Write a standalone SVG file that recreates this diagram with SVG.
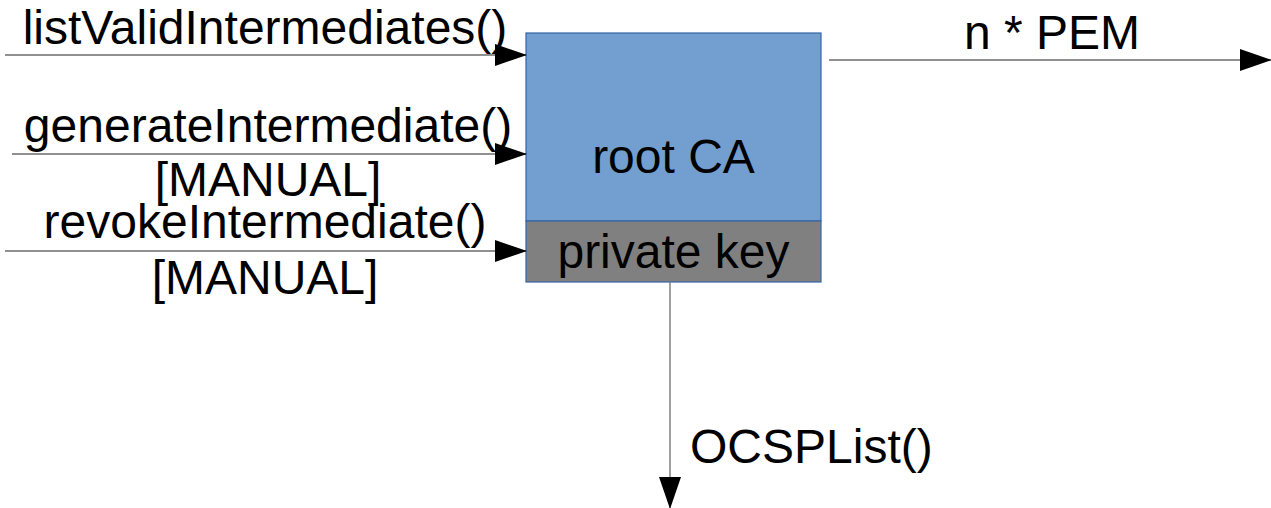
<svg xmlns="http://www.w3.org/2000/svg" width="1271" height="508" viewBox="0 0 1271 508">
<style>
text{font-family:"Liberation Sans",Arial,sans-serif;font-size:48px;fill:#000}
.c{text-anchor:middle}
.ln{stroke:#222;stroke-width:1.2;fill:none}
.lg{stroke:#808080;stroke-width:1.5;fill:none}
</style>
<defs>
<marker id="ah" markerUnits="userSpaceOnUse" markerWidth="32" markerHeight="22" viewBox="0 0 32 22" refX="31" refY="11" orient="auto">
<path d="M0,0 L32,11 L0,22 Z" fill="#000"/>
</marker>
</defs>
<g id="rootCA">
<rect x="526" y="33" width="295" height="188" fill="#729fcf" stroke="#3465a4" stroke-width="1.2"/>
<text class="c" x="673.5" y="173">root CA</text>
</g>
<g id="privateKey">
<rect x="526" y="221" width="295" height="61" fill="#808080" stroke="#3465a4" stroke-width="1.2"/>
<text class="c" x="673.5" y="268">private key</text>
</g>
<g id="connectors">
<line class="ln" x1="5" y1="55" x2="526" y2="55" marker-end="url(#ah)"/>
<line class="ln" x1="12" y1="154" x2="526" y2="154" marker-end="url(#ah)"/>
<line class="ln" x1="5" y1="251" x2="526" y2="251" marker-end="url(#ah)"/>
<line class="ln" x1="829" y1="60" x2="1271" y2="60" marker-end="url(#ah)"/>
<line class="lg" x1="670" y1="282" x2="670" y2="508" marker-end="url(#ah)"/>
</g>
<g id="labels">
<text class="c" x="265" y="44">listValidIntermediates()</text>
<text class="c" x="268" y="142">generateIntermediate()</text>
<text class="c" x="268" y="196">[MANUAL]</text>
<text class="c" x="265" y="238">revokeIntermediate()</text>
<text class="c" x="265" y="294">[MANUAL]</text>
<text class="c" x="1052" y="49">n * PEM</text>
<text x="690" y="463">OCSPList()</text>
</g>
</svg>
